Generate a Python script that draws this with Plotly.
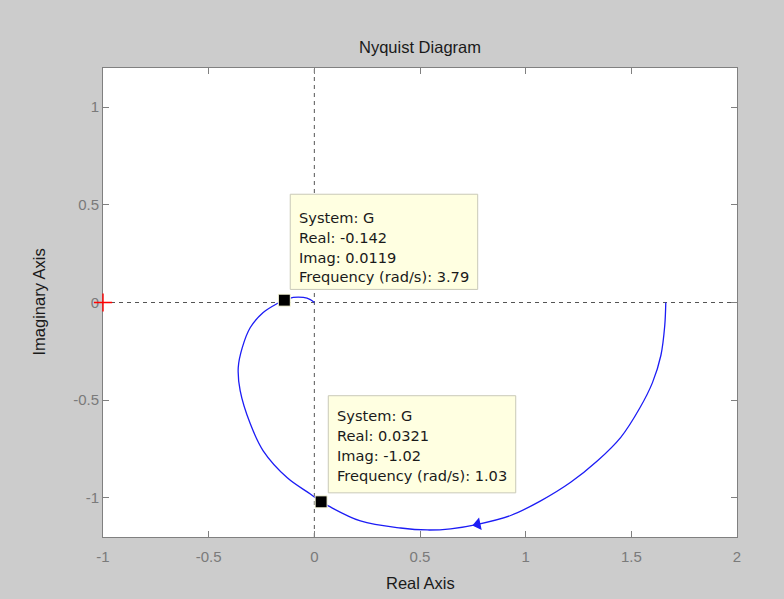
import plotly.graph_objects as go

# Nyquist curve, travelling from w=0 (right) to w=inf (origin)
curve_re = [1.663, 1.658, 1.640, 1.600, 1.540, 1.450, 1.340, 1.213, 1.071, 0.929, 0.773,
            0.645, 0.535, 0.408, 0.218, 0.066, 0.032, -0.019, -0.128, -0.242, -0.303,
            -0.351, -0.360, -0.341, -0.303, -0.242, -0.175, -0.142, -0.100, -0.052,
            -0.019, 0.0]
curve_im = [0.0, -0.12, -0.27, -0.41, -0.54, -0.69, -0.81, -0.92, -1.015, -1.09, -1.135,
            -1.158, -1.164, -1.154, -1.118, -1.041, -1.020, -0.980, -0.897, -0.759, -0.621,
            -0.451, -0.333, -0.231, -0.128, -0.051, -0.005, 0.012, 0.026, 0.026,
            0.015, 0.0]

# arrow location on the curve
arrow_re = [0.773]
arrow_im = [-1.135]

# data tips
tip_re = [-0.142, 0.0321]
tip_im = [0.0119, -1.02]
tip_freq = [3.79, 1.03]
tip_re_txt = ["-0.142", "0.0321"]
tip_im_txt = ["0.0119", "-1.02"]
tip_freq_txt = ["3.79", "1.03"]

# critical point
crit_re = [-1]
crit_im = [0]

x_ticks = [-1, -0.5, 0, 0.5, 1, 1.5, 2]
x_ticktext = ["-1", "-0.5", "0", "0.5", "1", "1.5", "2"]
y_ticks = [-1, -0.5, 0, 0.5, 1]
y_ticktext = ["-1", "-0.5", "0", "0.5", "1"]

font_fam = "Liberation Sans, Arial, sans-serif"

fig = go.Figure()

fig.add_trace(go.Scatter(x=curve_re, y=curve_im, mode="lines",
                         line=dict(color="#1c1cf5", width=1.3, shape="spline", smoothing=1.0),
                         hoverinfo="skip", showlegend=False))
fig.add_trace(go.Scatter(x=arrow_re, y=arrow_im, mode="markers",
                         marker=dict(symbol="triangle-left", size=11, color="#1c1cf5",
                                     angle=-12, line=dict(width=0)),
                         showlegend=False))
fig.add_trace(go.Scatter(x=crit_re, y=crit_im, mode="markers", cliponaxis=False,
                         marker=dict(symbol="cross-thin", size=13,
                                     line=dict(color="#ff0000", width=1.4)),
                         showlegend=False))
fig.add_trace(go.Scatter(x=tip_re, y=tip_im, mode="markers", cliponaxis=False,
                         marker=dict(symbol="square", size=12, color="#000000",
                                     line=dict(color="#ffffe1", width=1)),
                         showlegend=False))

shapes = [
    dict(type="line", xref="x", yref="paper", x0=0, x1=0, y0=0, y1=1,
         line=dict(color="#555555", width=1, dash="4px,4px"), layer="below"),
    dict(type="line", xref="paper", yref="y", x0=0, x1=1, y0=0, y1=0,
         line=dict(color="#555555", width=1, dash="4px,4px"), layer="below"),
]

# data tip boxes (positions)
boxes = [(-0.114, 0.773, 0.067, 0.554), (0.066, 0.953, -0.974, -0.477)]
text_x = [-0.081, 0.0995]
text_y = [[0.436, 0.333, 0.231, 0.133], [-0.579, -0.682, -0.785, -0.887]]
for (x0, x1, y0, y1) in boxes:
    shapes.append(dict(type="rect", xref="x", yref="y", x0=x0, x1=x1, y0=y0, y1=y1,
                       fillcolor="#ffffe1", line=dict(color="#c9c9b8", width=1),
                       layer="above"))

annotations = []
for i in range(len(tip_re)):
    lines = ["System: G", "Real: " + tip_re_txt[i], "Imag: " + tip_im_txt[i],
             "Frequency (rad/s): " + tip_freq_txt[i]]
    for j, t in enumerate(lines):
        annotations.append(dict(x=text_x[i], y=text_y[i][j], xref="x", yref="y",
                                text=t, showarrow=False, xanchor="left", yanchor="middle",
                                font=dict(family="DejaVu Sans, sans-serif", size=14.6,
                                          color="#1a1a1a")))

# axis titles
plot_h = 599 - 68 - 62
plot_w = 784 - 103 - 47
annotations.append(dict(text="Real Axis", x=0.5, y=(537 - 583) / plot_h, xref="paper",
                        yref="paper", showarrow=False, xanchor="center", yanchor="middle",
                        font=dict(family=font_fam, size=16.5, color="#1a1a1a")))
annotations.append(dict(text="Imaginary Axis", x=(38 - 103) / plot_w, y=0.5, xref="paper",
                        yref="paper", showarrow=False, xanchor="center", yanchor="middle",
                        textangle=-90,
                        font=dict(family=font_fam, size=16.5, color="#1a1a1a")))

fig.update_layout(
    width=784, height=599,
    margin=dict(l=103, r=47, t=68, b=62, pad=0),
    paper_bgcolor="#cccccc", plot_bgcolor="#ffffff",
    shapes=shapes,
    title=dict(text="Nyquist Diagram", x=420 / 784, y=1 - 47 / 599, xanchor="center",
               yanchor="middle", xref="container", yref="container",
               font=dict(family=font_fam, size=16.5, color="#1a1a1a")),
    annotations=annotations,
    xaxis=dict(range=[-1, 2], tickvals=x_ticks, ticktext=x_ticktext, automargin=False,
               showgrid=False, zeroline=False, showline=True, linecolor="#808080",
               linewidth=1, mirror="ticks", ticks="inside", ticklen=6, tickcolor="#808080",
               ticklabelstandoff=6, layer="below traces",
               tickfont=dict(family=font_fam, size=15, color="#7a7a7a")),
    yaxis=dict(range=[-1.2, 1.2], tickvals=y_ticks, ticktext=y_ticktext, automargin=False,
               showgrid=False, zeroline=False, showline=True, linecolor="#808080",
               linewidth=1, mirror="ticks", ticks="inside", ticklen=6, tickcolor="#808080",
               layer="below traces",
               tickfont=dict(family=font_fam, size=15, color="#7a7a7a")),
)

fig.write_html("out.html")
